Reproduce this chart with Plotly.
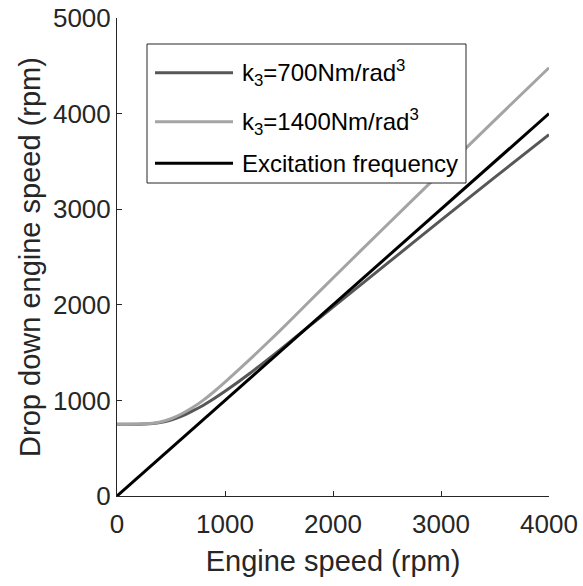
import plotly.graph_objects as go

engine_speed = [0, 200, 300, 400, 500, 600, 700, 800, 900, 1000, 1250, 1500, 1750, 2000, 2500, 3000, 3500, 4000]
drop_k700 = [750, 751, 755, 768, 795, 835, 890, 950, 1020, 1095, 1300, 1520, 1750, 1975, 2430, 2885, 3335, 3780]
drop_k1400 = [750, 752, 758, 775, 808, 860, 925, 1003, 1093, 1190, 1450, 1720, 2000, 2280, 2835, 3385, 3935, 4480]
excitation_x = [0, 4000]
excitation_y = [0, 4000]

labels = ["k<sub>3</sub>=700Nm/rad<sup>3</sup>",
          "k<sub>3</sub>=1400Nm/rad<sup>3</sup>",
          "Excitation frequency"]
colors = ["#575757", "#a4a4a4", "#000000"]

FONT = "Liberation Sans, Arial, sans-serif"
TXT = "#262626"

fig = go.Figure()
fig.add_trace(go.Scatter(x=engine_speed, y=drop_k700, mode="lines", line=dict(color=colors[0], width=3, shape="spline", smoothing=0.5), name=labels[0], showlegend=False))
fig.add_trace(go.Scatter(x=engine_speed, y=drop_k1400, mode="lines", line=dict(color=colors[1], width=3, shape="spline", smoothing=0.5), name=labels[1], showlegend=False))
fig.add_trace(go.Scatter(x=excitation_x, y=excitation_y, mode="lines", line=dict(color=colors[2], width=3), name=labels[2], showlegend=False))

W, H = 583, 586
L, R, T, B = 117, 34, 18, 90
pw, ph = W - L - R, H - T - B

def px(xp):
    return (xp - L) / pw

def py(yp):
    return 1 - (yp - T) / ph

# manual legend
fig.add_shape(type="rect", xref="paper", yref="paper", x0=px(147), x1=px(466), y0=py(183), y1=py(44),
              line=dict(color=TXT, width=1), fillcolor="white", layer="above")
rows = [72.7, 121.7, 163.3]
for lab, col, yr in zip(labels, colors, rows):
    fig.add_shape(type="line", xref="paper", yref="paper", x0=px(155), x1=px(233), y0=py(yr), y1=py(yr),
                  line=dict(color=col, width=3), layer="above")
    fig.add_annotation(xref="paper", yref="paper", x=px(240), y=py(yr), text=lab, showarrow=False,
                       xanchor="left", yanchor="middle", font=dict(family=FONT, size=24, color="#000000"))

fig.update_layout(
    width=W, height=H,
    margin=dict(l=L, r=R, t=T, b=B),
    paper_bgcolor="white", plot_bgcolor="white",
    font=dict(family=FONT, size=26, color=TXT),
    xaxis=dict(range=[0, 4000], tickvals=[0, 1000, 2000, 3000, 4000], showline=True, linecolor=TXT, linewidth=1,
               ticks="inside", ticklen=5, tickcolor=TXT, showgrid=False, zeroline=False, automargin=False,
               ticklabelstandoff=5,
               title=dict(text="Engine speed (rpm)", font=dict(size=29), standoff=12)),
    yaxis=dict(range=[0, 5000], tickvals=[0, 1000, 2000, 3000, 4000, 5000], showline=True, linecolor=TXT, linewidth=1,
               ticks="inside", ticklen=5, tickcolor=TXT, showgrid=False, zeroline=False, automargin=False,
               title=dict(text="Drop down engine speed (rpm)", font=dict(size=29), standoff=3)),
)

fig.write_html("out.html")
